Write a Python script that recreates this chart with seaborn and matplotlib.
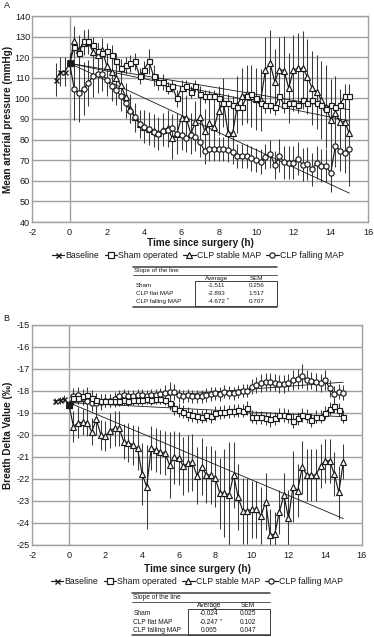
import matplotlib
matplotlib.use("Agg")
import matplotlib.pyplot as plt
import seaborn as sns
from matplotlib.lines import Line2D
from matplotlib.patches import Rectangle

# ---------------- data ----------------
T = [0, 0.25, 0.5, 0.75, 1, 1.25, 1.5, 1.75, 2, 2.25, 2.5, 2.75, 3, 3.25, 3.5, 3.75,
     4, 4.25, 4.5, 4.75, 5, 5.25, 5.5, 5.75, 6, 6.25, 6.5, 6.75, 7, 7.25, 7.5, 7.75,
     8, 8.25, 8.5, 8.75, 9, 9.25, 9.5, 9.75, 10, 10.25, 10.5, 10.75, 11, 11.25, 11.5,
     11.75, 12, 12.25, 12.5, 12.75, 13, 13.25, 13.5, 13.75, 14, 14.25, 14.5, 14.75, 15]
T_BASE = [-0.75, -0.5, -0.25, 0]
REG_T = [0, 15]

# Panel A: mean arterial pressure (mmHg)
base_A = [109, 113, 113, 117]
base_A_err = [8, 7, 7, 5]
sham_A = [117, 125, 122, 128, 128, 126, 123, 122, 123, 121,
          118, 115, 116, 117, 118, 111, 114, 118, 111, 108,
          108, 105, 106, 100, 105, 106, 103, 106, 102, 101,
          101, 101, 100, 98, 98, 97, 96, 96, 101, 102,
          100, 98, 97, 97, 96, 101, 97, 98, 98, 97,
          99, 98, 99, 98, 97, 95, 97, 96, 97, 101,
          101]
sham_A_err = [3, 5, 6, 5, 5, 4, 4, 4, 4, 5,
              4, 4, 4, 4, 4, 4, 4, 6, 5, 4,
              4, 3, 3, 4, 4, 3, 3, 3, 4, 3,
              3, 3, 3, 3, 4, 4, 4, 4, 4, 4,
              4, 4, 4, 4, 4, 4, 4, 4, 4, 4,
              4, 4, 4, 4, 5, 5, 5, 5, 5, 6,
              6]
stable_A = [117, 128, 123.7, 127, 127.5, 122.6, 121, 123.4, 115.6, 112.8,
            110, 106.3, 100.7, 95, 90.9, 87.6, 86.3, 85.2, 84.4, 83.1,
            84.7, 85.5, 80.8, 82.8, 90.6, 90.6, 82.8, 88.5, 90.9, 84,
            88, 86, 94, 98, 83, 83.4, 97, 101, 102, 101,
            99.6, 99.3, 113.8, 117, 108.2, 114, 113.5, 105, 113.8, 114.6,
            114.6, 110.6, 105, 103.3, 99.3, 96, 89.5, 92.8, 88.7, 88.7,
            83]
stable_A_err = [4, 7, 7, 6, 6, 6, 6, 6, 7, 7,
                7, 7, 7, 7, 7, 7, 8, 8, 8, 8,
                8, 9, 10, 10, 11, 11, 10, 10, 11, 11,
                11, 12, 12, 12, 12, 13, 14, 14, 14, 15,
                15, 15, 16, 16, 16, 16, 17, 17, 17, 17,
                18, 18, 18, 18, 19, 20, 20, 18, 16, 15,
                22]
falling_A = [117, 104.7, 102.6, 104.7, 107.5, 110.7, 111.7, 111.7, 109, 105.9,
             104, 101, 97.7, 94.1, 90.9, 87.6, 86.3, 85.2, 83.9, 82.8,
             84, 84.7, 85.5, 82.8, 82, 80.8, 82.4, 81.5, 78.7, 74.3,
             75.5, 75.5, 75.5, 75.5, 75, 74.2, 72.1, 72.1, 72, 70.9,
             70.1, 69.3, 71.7, 73, 67.7, 72.1, 69, 68.8, 68.8, 70.8,
             67.7, 68.3, 65.6, 68.8, 67.2, 67.2, 63.7, 76.9, 74.7, 73.7,
             75.6]
falling_A_err = [4, 15, 14, 13, 11, 10, 9, 8, 8, 7,
                 7, 7, 7, 6, 6, 6, 6, 6, 6, 6,
                 6, 6, 7, 7, 7, 7, 7, 7, 7, 6,
                 6, 6, 6, 6, 6, 6, 6, 6, 6, 6,
                 6, 6, 6, 7, 7, 8, 8, 8, 8, 8,
                 8, 8, 8, 8, 8, 8, 9, 10, 10, 10,
                 18]
reg_A_sham = [117, 94.5]
reg_A_stable = [117, 89]
reg_A_falling = [117, 54]

# Panel B: breath delta value (per mille)
base_B = [-18.45, -18.42, -18.35, -18.62]
base_B_err = [0.15, 0.15, 0.15, 0.15]
sham_B = [-18.62, -18.3, -18.3, -18.25, -18.2, -18.3, -18.4, -18.45, -18.45, -18.45,
          -18.45, -18.45, -18.4, -18.45, -18.4, -18.4, -18.4, -18.35, -18.4, -18.35,
          -18.35, -18.4, -18.55, -18.79, -18.86, -18.95, -19.05, -19.1, -19.14, -19.17,
          -19.1, -19.15, -19.0, -18.97, -18.95, -18.93, -18.9, -18.87, -18.9, -18.77,
          -19.17, -19.2, -19.2, -19.24, -19.29, -19.24, -19.09, -19.09, -19.14, -19.35,
          -19.24, -19.09, -19.14, -19.32, -19.17, -19.17, -18.99, -18.8, -18.7, -18.85,
          -19.17]
sham_B_err = [0.15, 0.3, 0.3, 0.35, 0.4, 0.35, 0.3, 0.3, 0.3, 0.3,
              0.3, 0.25, 0.25, 0.25, 0.25, 0.25, 0.25, 0.25, 0.25, 0.25,
              0.25, 0.25, 0.3, 0.3, 0.3, 0.3, 0.3, 0.3, 0.3, 0.3,
              0.3, 0.3, 0.3, 0.3, 0.3, 0.3, 0.3, 0.3, 0.3, 0.3,
              0.3, 0.3, 0.3, 0.3, 0.35, 0.3, 0.3, 0.3, 0.3, 0.35,
              0.3, 0.3, 0.3, 0.3, 0.3, 0.3, 0.3, 0.3, 0.3, 0.3,
              0.3]
stable_B = [-18.62, -19.62, -19.44, -19.42, -19.44, -19.85, -19.29, -20.0, -20.05, -19.8,
            -19.7, -19.7, -20.3, -20.35, -20.45, -20.6, -21.77, -22.35, -20.6, -20.68,
            -20.76, -20.83, -21.36, -21.02, -21.06, -21.41, -21.29, -21.25, -21.85, -21.45,
            -21.8, -21.82, -21.97, -22.65, -22.62, -22.73, -21.82, -22.83, -23.44, -23.44,
            -23.38, -23.38, -23.67, -23.03, -24.55, -24.5, -23.49, -22.73, -23.79, -22.35,
            -22.53, -21.47, -21.82, -21.82, -21.82, -21.41, -21.17, -21.17, -21.77, -22.6,
            -21.21]
stable_B_err = [0.15, 0.7, 0.7, 0.6, 0.6, 0.6, 0.7, 0.7, 0.7, 0.8,
                0.8, 0.8, 0.8, 0.9, 0.9, 1.0, 1.4, 1.9, 1.0, 1.0,
                1.0, 1.0, 1.5, 1.2, 1.2, 1.3, 1.3, 1.3, 1.3, 1.3,
                1.3, 1.3, 1.3, 1.6, 2.0, 2.4, 1.5, 1.5, 1.5, 1.5,
                1.3, 1.3, 1.3, 1.3, 1.2, 1.0, 1.0, 1.0, 1.3, 1.6,
                1.2, 1.2, 1.2, 1.2, 1.2, 1.0, 1.0, 1.0, 1.0, 1.2,
                0.8]
falling_B = [-18.62, -18.25, -18.2, -18.3, -18.45, -18.55, -18.55, -18.5, -18.45, -18.45,
             -18.35, -18.25, -18.2, -18.25, -18.25, -18.2, -18.2, -18.25, -18.2, -18.2,
             -18.15, -18.1, -18.05, -18.05, -18.2, -18.25, -18.2, -18.25, -18.25, -18.25,
             -18.18, -18.14, -18.11, -18.14, -18.03, -18.08, -18.11, -18.03, -17.99, -17.99,
             -17.8, -17.73, -17.65, -17.58, -17.58, -17.62, -17.68, -17.68, -17.62, -17.5,
             -17.47, -17.32, -17.5, -17.53, -17.58, -17.65, -17.5, -17.88, -18.14, -18.03,
             -18.08]
falling_B_err = [0.15, 0.4, 0.4, 0.35, 0.35, 0.35, 0.35, 0.35, 0.3, 0.3,
                 0.3, 0.3, 0.3, 0.3, 0.3, 0.3, 0.3, 0.3, 0.3, 0.3,
                 0.3, 0.35, 0.45, 0.35, 0.3, 0.3, 0.3, 0.3, 0.3, 0.3,
                 0.3, 0.3, 0.3, 0.3, 0.3, 0.3, 0.3, 0.3, 0.3, 0.3,
                 0.35, 0.35, 0.4, 0.4, 0.4, 0.4, 0.4, 0.4, 0.4, 0.45,
                 0.45, 0.55, 0.45, 0.4, 0.4, 0.4, 0.45, 0.4, 0.35, 0.35,
                 0.35]
reg_B_sham = [-18.53, -19.17]
reg_B_stable = [-18.53, -23.8]
reg_B_falling = [-18.53, -17.6]

X_TICKS = [-2, 0, 2, 4, 6, 8, 10, 12, 14, 16]
Y_TICKS_A = [40, 50, 60, 70, 80, 90, 100, 110, 120, 130, 140]
Y_TICKS_B = [-25, -24, -23, -22, -21, -20, -19, -18, -17, -16, -15]
LEGEND_LABELS = ["Baseline", "Sham operated", "CLP stable MAP", "CLP falling MAP"]
TABLE_TITLE = "Slope of the line"
TABLE_COLS = ["Average", "SEM"]
TABLE_ROWS = ["Sham", "CLP flat MAP", "CLP falling MAP"]
TABLE_A_AVG = ["-1.511", "-2.893", "-4.672"]
TABLE_A_SEM = ["0.256", "1.517", "0.707"]
TABLE_A_STAR = 2
TABLE_B_AVG = ["-0.024", "-0.247", "0.065"]
TABLE_B_SEM = ["0.025", "0.102", "0.047"]
TABLE_B_STAR = 1

# ---------------- style ----------------
sns.set_theme(style="white")
plt.rcParams['font.family'] = ['Liberation Sans', 'DejaVu Sans']
plt.rcParams['axes.unicode_minus'] = False

W, H = 374, 637
fig = plt.figure(figsize=(W / 100, H / 100), dpi=100)
fig.patch.set_facecolor('white')


def fx(px):
    return px / W


def fy(py):
    return 1 - py / H


GRID = '#a0a0a0'
TXT = '#1a1a1a'


def style(ax, ylim, yticks):
    ax.set_xlim(-2, 16)
    ax.set_ylim(*ylim)
    ax.set_xticks(X_TICKS)
    ax.set_yticks(yticks)
    ax.set_xticklabels([str(v) for v in X_TICKS])
    ax.set_yticklabels([str(v) for v in yticks])
    ax.set_facecolor('white')
    ax.yaxis.grid(True, color=GRID, lw=1.0)
    ax.xaxis.grid(False)
    ax.set_axisbelow(True)
    for s in ax.spines.values():
        s.set_visible(True)
        s.set_color(GRID)
        s.set_linewidth(1.0)
    ax.axvline(0, color=GRID, lw=1.0, zorder=0.8)
    ax.tick_params(axis='both', length=0, labelsize=6.6, colors=TXT)
    ax.tick_params(axis='x', pad=4.5)
    ax.tick_params(axis='y', pad=1.5)
    ax.set_xlabel('')
    ax.set_ylabel('')


def series(ax, t, v, e, marker, ms):
    ax.errorbar(t, v, yerr=e, fmt='none', ecolor='#3a3a3a', elinewidth=0.75,
                capsize=0, zorder=2)
    sns.lineplot(x=t, y=v, ax=ax, color='k', lw=0.85, marker=marker, markersize=ms,
                 markerfacecolor='white', markeredgecolor='k', markeredgewidth=0.85,
                 estimator=None, sort=False, legend=False, zorder=3)


def baseline(ax, t, v, e):
    ax.errorbar(t, v, yerr=e, fmt='none', ecolor='#3a3a3a', elinewidth=0.75,
                capsize=0, zorder=2)
    sns.lineplot(x=t, y=v, ax=ax, color='k', lw=0.85, marker='x', markersize=3.6,
                 markeredgecolor='k', markeredgewidth=1.0,
                 estimator=None, sort=False, legend=False, zorder=4)
    # the shared starting point at t = 0 appears as a filled marker
    sns.scatterplot(x=t[-1:], y=v[-1:], ax=ax, color='k', marker='s', s=16,
                    edgecolor='k', linewidth=0.5, legend=False, zorder=5)


def panel(ax, base, base_e, sham, sham_e, stable, stable_e, falling, falling_e,
          regs):
    for r in regs:
        ax.plot(REG_T, r, color='k', lw=0.6, zorder=2.5)
    series(ax, T, stable, stable_e, '^', 3.9)
    series(ax, T, falling, falling_e, 'o', 3.8)
    series(ax, T, sham, sham_e, 's', 3.6)
    baseline(ax, T_BASE, base, base_e)


axA = fig.add_axes([fx(32.3), fy(222), fx(368) - fx(32.3), fy(16) - fy(222)])
axB = fig.add_axes([fx(32.3), fy(545), fx(361.7) - fx(32.3), fy(325) - fy(545)])

panel(axA, base_A, base_A_err, sham_A, sham_A_err, stable_A, stable_A_err,
      falling_A, falling_A_err, [reg_A_sham, reg_A_stable, reg_A_falling])
style(axA, (40, 140), Y_TICKS_A)
panel(axB, base_B, base_B_err, sham_B, sham_B_err, stable_B, stable_B_err,
      falling_B, falling_B_err, [reg_B_sham, reg_B_stable, reg_B_falling])
style(axB, (-25, -15), Y_TICKS_B)

# labels
fig.text(fx(3.5), fy(5), 'A', fontsize=6.5, color=TXT, ha='left', va='center')
fig.text(fx(3.5), fy(319), 'B', fontsize=6.5, color=TXT, ha='left', va='center')
fig.text(fx(200), fy(243.5), 'Time since surgery (h)', fontsize=7.2, weight='bold',
         color=TXT, ha='center', va='center')
fig.text(fx(197), fy(568.5), 'Time since surgery (h)', fontsize=7.2, weight='bold',
         color=TXT, ha='center', va='center')
fig.text(fx(8), fy(119), 'Mean arterial pressure (mmHg)', fontsize=7.2, weight='bold',
         color=TXT, ha='center', va='center', rotation=90)
fig.text(fx(8), fy(435), 'Breath Delta Value (‰)', fontsize=7.2, weight='bold',
         color=TXT, ha='center', va='center', rotation=90)


# legends
def handles():
    hs = [Line2D([], [], color='k', lw=0.85, marker='x', ms=3.6, mew=1.0)]
    for m in ['s', '^', 'o']:
        hs.append(Line2D([], [], color='k', lw=0.85, marker=m, ms=3.8,
                         mfc='white', mec='k', mew=0.85))
    return hs


for cx, cy in [(198, 255.5), (197, 581.5)]:
    fig.legend(handles(), LEGEND_LABELS, loc='center', bbox_to_anchor=(fx(cx), fy(cy)),
               ncol=4, frameon=False, fontsize=6.3, handlelength=1.4,
               handletextpad=0.15, columnspacing=0.6, borderaxespad=0, borderpad=0,
               labelcolor=TXT)


# tables
def hline(x0, x1, y, lw):
    fig.add_artist(Line2D([fx(x0), fx(x1)], [fy(y), fy(y)], color='#3c3c3c', lw=lw,
                          transform=fig.transFigure))


def table(p, avg, sem, star):
    fs = p['fs']
    hline(p['x0'], p['x1'], p['top'], 1.1)
    fig.text(fx(p['x0'] + 1), fy(p['title']), TABLE_TITLE, fontsize=fs, color=TXT,
             ha='left', va='center')
    hline(p['x0'], p['x1'], p['under'], 0.6)
    fig.text(fx(p['avg']), fy(p['hdr']), TABLE_COLS[0], fontsize=fs, color=TXT,
             ha='center', va='center')
    fig.text(fx(p['sem']), fy(p['hdr']), TABLE_COLS[1], fontsize=fs, color=TXT,
             ha='center', va='center')
    fig.add_artist(Rectangle((fx(p['bx0']), fy(p['bbot'])),
                             fx(p['x1']) - fx(p['bx0']), fy(p['btop']) - fy(p['bbot']),
                             fill=False, ec='#3c3c3c', lw=0.7, transform=fig.transFigure))
    hline(p['x0'], p['x1'], p['bottom'], 1.1)
    for i, y in enumerate(p['rows']):
        fig.text(fx(p['lx']), fy(y), TABLE_ROWS[i], fontsize=fs, color=TXT,
                 ha='left', va='center')
        fig.text(fx(p['avg']), fy(y), avg[i], fontsize=fs, color=TXT,
                 ha='center', va='center')
        fig.text(fx(p['sem']), fy(y), sem[i], fontsize=fs, color=TXT,
                 ha='center', va='center')
        if i == star:
            fig.text(fx(p['star']), fy(y - 1.8), '*', fontsize=fs * 0.8, color=TXT,
                     ha='center', va='center')


table(dict(fs=4.5, x0=133.3, x1=276.7, top=266.7, title=270.6, under=274.6, hdr=278.6,
           btop=281.5, bbot=306.3, bottom=306.6, bx0=195, avg=216.7, sem=256.7,
           lx=135.5, rows=[285.8, 293.8, 301.8], star=228.3),
      TABLE_A_AVG, TABLE_A_SEM, TABLE_A_STAR)
table(dict(fs=4.8, x0=131.7, x1=270, top=593.3, title=597.4, under=601.7, hdr=605.7,
           btop=609, bbot=634.6, bottom=635.4, bx0=188.3, avg=209.3, sem=248.3,
           lx=133.3, rows=[613.6, 622, 630], star=220.7),
      TABLE_B_AVG, TABLE_B_SEM, TABLE_B_STAR)

fig.savefig('out.png', dpi=100, facecolor='white')
